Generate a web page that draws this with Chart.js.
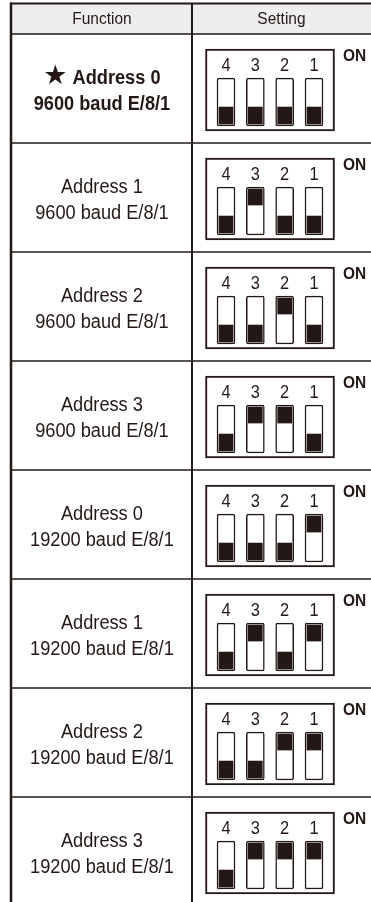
<!DOCTYPE html>
<html>
<head>
<meta charset="utf-8">
<script src="https://cdn.jsdelivr.net/npm/chart.js@4.4.1/dist/chart.umd.min.js"></script>
<style>
  html, body { margin: 0; padding: 0; background: #fff; }
  #wrap { width: 371px; height: 902px; position: relative; }
</style>
</head>
<body>
<div id="wrap"><canvas id="dip"></canvas></div>
<script>
// ---- table content ----
const headers = ['Function', 'Setting'];
const addressLabels = ['Address 0', 'Address 1', 'Address 2', 'Address 3',
                       'Address 0', 'Address 1', 'Address 2', 'Address 3'];
const baudLabels = ['9600 baud E/8/1', '9600 baud E/8/1', '9600 baud E/8/1', '9600 baud E/8/1',
                    '19200 baud E/8/1', '19200 baud E/8/1', '19200 baud E/8/1', '19200 baud E/8/1'];
const defaultRow = 0;              // row marked with the star
const switchLabels = ['4', '3', '2', '1'];
const onLabel = 'ON';

// switch states per row, 1 = ON (knob up), 0 = OFF (knob down)
const sw4 = [0, 0, 0, 0, 0, 0, 0, 0];
const sw3 = [0, 1, 0, 1, 0, 1, 0, 1];
const sw2 = [0, 0, 1, 1, 0, 0, 1, 1];
const sw1 = [0, 0, 0, 0, 1, 1, 1, 1];
const switches = [sw4, sw3, sw2, sw1];

// ---- layout (x in switch pitch units, y in row units) ----
const INK = '#231815';
const FONT = '"Liberation Sans", Arial, sans-serif';
const NARROW = 0.91;               // the print uses a slightly condensed face
const X_MIN = -7.705, X_MAX = 4.943;
const Y_MIN = -0.312, Y_MAX = 7.963;
const COL_LEFT = -7.33, COL_MID = -1.16;
const TEXT_X = -4.23, SETTING_X = 1.89, ON_X = 4.38;
const HEAD_TOP = -0.28;

// rectangles inside one row (fractions of row height)
const BOX = [0.138, 0.89];
const SLOT = [0.404, 0.844];
const KNOB_UP = [0.422, 0.569];
const KNOB_DOWN = [0.67, 0.826];

const rows = addressLabels.map((_, i) => i);

const knobData = [], slotData = [], boxData = [];
rows.forEach(r => {
  boxData.push({ x: 1.5, y: [r + BOX[0], r + BOX[1]] });
  switches.forEach((s, j) => {
    slotData.push({ x: j, y: [r + SLOT[0], r + SLOT[1]] });
    const k = s[r] ? KNOB_UP : KNOB_DOWN;
    knobData.push({ x: j, y: [r + k[0], r + k[1]] });
  });
});

function narrowText(ctx, text, px, py, font) {
  ctx.save();
  ctx.translate(px, py);
  ctx.scale(NARROW, 1);
  ctx.font = font;
  ctx.fillText(text, 0, 0);
  ctx.restore();
}

/** table lines, header band and all texts */
const tablePlugin = {
  id: 'table',
  beforeDatasetsDraw(chart) {
    const { ctx, scales: { x, y } } = chart;
    const left = x.getPixelForValue(COL_LEFT);
    const mid = x.getPixelForValue(COL_MID);
    const right = chart.width;
    const top = y.getPixelForValue(HEAD_TOP);
    ctx.save();
    ctx.fillStyle = '#eeeeee';
    ctx.fillRect(left, top, right - left, y.getPixelForValue(0) - top);
    ctx.strokeStyle = INK;
    ctx.lineWidth = 1.5;
    rows.forEach(r => {
      const yy = y.getPixelForValue(r);
      ctx.beginPath(); ctx.moveTo(left, yy); ctx.lineTo(right, yy); ctx.stroke();
    });
    ctx.lineWidth = 2;
    ctx.beginPath(); ctx.moveTo(left - 1, top); ctx.lineTo(right, top); ctx.stroke();
    ctx.beginPath(); ctx.moveTo(mid, top); ctx.lineTo(mid, chart.height); ctx.stroke();
    ctx.lineWidth = 2.5;
    ctx.beginPath(); ctx.moveTo(left, top - 1); ctx.lineTo(left, chart.height); ctx.stroke();
    ctx.restore();
  },
  afterDatasetsDraw(chart) {
    const { ctx, scales: { x, y } } = chart;
    ctx.save();
    ctx.fillStyle = INK;
    ctx.textAlign = 'center';
    ctx.textBaseline = 'middle';
    const headY = y.getPixelForValue(HEAD_TOP / 2) + 1;
    narrowText(ctx, headers[0], x.getPixelForValue(TEXT_X), headY, '17px ' + FONT);
    narrowText(ctx, headers[1], x.getPixelForValue(SETTING_X), headY, '17px ' + FONT);
    rows.forEach(r => {
      const bold = r === defaultRow;
      const f = (bold ? 'bold ' : '') + '20px ' + FONT;
      const tx = x.getPixelForValue(TEXT_X);
      const y1 = y.getPixelForValue(r + 0.404);
      if (bold) {
        // star drawn a bit larger than the text, the pair stays centred
        ctx.font = f;
        const tw = ctx.measureText(addressLabels[r]).width * NARROW;
        ctx.font = '27px "DejaVu Sans", sans-serif';
        const sw = ctx.measureText('\u2605').width;
        const gap = 5;
        const start = tx - (sw + gap + tw) / 2;
        ctx.fillText('\u2605', start + sw / 2, y1 - 1);
        narrowText(ctx, addressLabels[r], start + sw + gap + tw / 2, y1, f);
      } else {
        narrowText(ctx, addressLabels[r], tx, y1, f);
      }
      narrowText(ctx, baudLabels[r], tx, y.getPixelForValue(r + 0.65), f);
      switchLabels.forEach((lab, j) => {
        narrowText(ctx, lab, x.getPixelForValue(j), y.getPixelForValue(r + 0.29), '18px ' + FONT);
      });
      narrowText(ctx, onLabel, x.getPixelForValue(ON_X), y.getPixelForValue(r + 0.205), 'bold 17px ' + FONT);
    });
    ctx.restore();
  }
};

const chart = new Chart(document.getElementById('dip').getContext('2d'), {
  type: 'bar',
  data: {
    datasets: [
      { label: 'knob', data: knobData, order: 0, backgroundColor: INK,
        barThickness: 14, borderWidth: 0 },
      { label: 'slot', data: slotData, order: 1, backgroundColor: '#ffffff',
        borderColor: INK, borderWidth: 1.5, borderRadius: 2, borderSkipped: false,
        barThickness: 18 },
      { label: 'box', data: boxData, order: 2, backgroundColor: '#ffffff',
        borderColor: INK, borderWidth: 2, borderSkipped: false, barThickness: 129 }
    ]
  },
  options: {
    responsive: true,
    maintainAspectRatio: false,
    animation: false,
    layout: { padding: 0 },
    datasets: { bar: { grouped: false } },
    plugins: { legend: { display: false }, tooltip: { enabled: false } },
    scales: {
      x: { type: 'linear', min: X_MIN, max: X_MAX, offset: false, display: false },
      y: { type: 'linear', min: Y_MIN, max: Y_MAX, reverse: true, display: false }
    }
  },
  plugins: [tablePlugin]
});
</script>
</body>
</html>
